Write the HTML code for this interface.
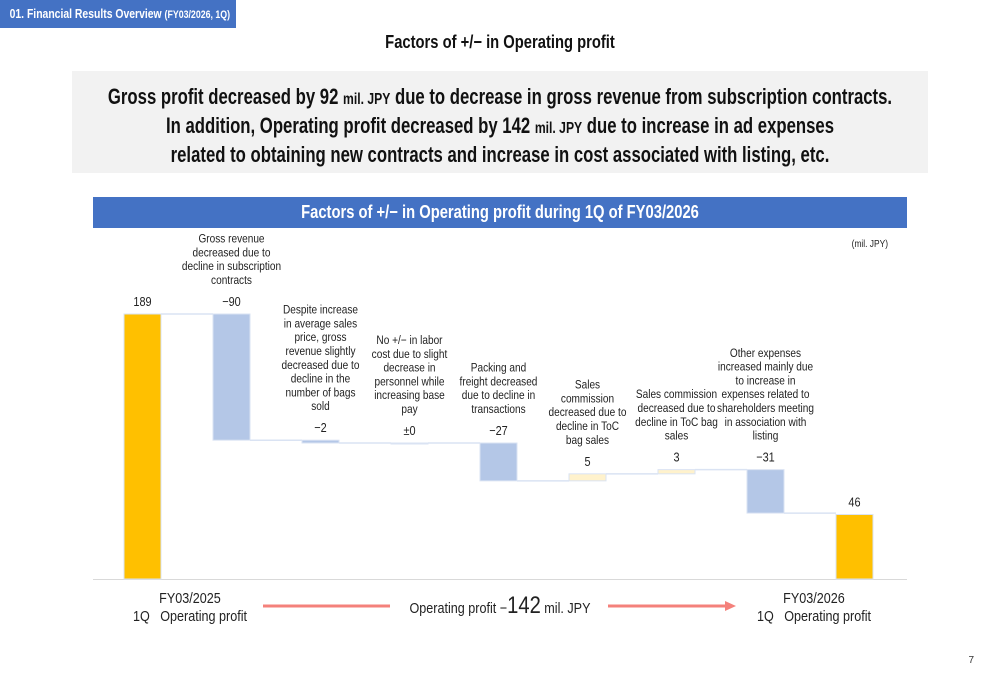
<!DOCTYPE html>
<html><head><meta charset="utf-8">
<style>
body{margin:0;background:#fff;font-family:"Liberation Sans",sans-serif;}
#root{position:relative;width:1000px;height:685px;overflow:hidden;background:#fff}
.tag{position:absolute;left:0;top:0;width:236px;height:28px;background:#4472c4;color:#fff;font-size:13px;font-weight:bold;line-height:28px;overflow:hidden;white-space:nowrap}
.tag div{transform:scaleX(0.8);transform-origin:0 0;padding-left:12px}
.title{position:absolute;left:0;width:1000px;top:32px;text-align:center;font-size:18px;font-weight:bold;color:#111;transform:scaleX(0.82)}
.box{position:absolute;left:72px;top:71px;width:856px;height:102px;background:#f2f2f2}
.box div{position:absolute;left:-100px;width:1056px;text-align:center;font-size:22px;font-weight:bold;line-height:26px;color:#111;top:13px;white-space:nowrap;transform:scaleX(0.76)}
.box small{font-size:16px}
.band{position:absolute;left:93px;top:197px;width:814px;height:31px;background:#4472c4;color:#fff;text-align:center;font-size:18px;font-weight:bold;line-height:31px;white-space:nowrap}
.band div{transform:scaleX(0.82)}
svg{position:absolute;left:0;top:0}
.page{position:absolute;right:26px;top:655px;font-size:10px;color:#333}
</style></head><body>
<div id="root">
<div class="tag"><div>01. Financial Results Overview <span style="font-size:11px">(FY03/2026, 1Q)</span></div></div>
<div class="title">Factors of +/− in Operating profit</div>
<div class="box"><div>Gross profit decreased by 92 <small>mil. JPY</small> due to decrease in gross revenue from subscription contracts.<br>In addition, Operating profit decreased by 142 <small>mil. JPY</small> due to increase in ad expenses<br>related to obtaining new contracts and increase in cost associated with listing, etc.</div></div>
<div class="band"><div>Factors of +/− in Operating profit during 1Q of FY03/2026</div></div>
<svg id="chart" width="1000" height="685"></svg>
<div class="page">7</div>
</div>
<script>
const values=[189,-90,-2,0,-27,5,3,-31,46];
const valueLabels=["189","−90","−2","±0","−27","5","3","−31","46"];
const kinds=["total","delta","delta","delta","delta","delta","delta","delta","total"];
const descriptions=[[],["Gross revenue","decreased due to","decline in subscription","contracts"],["Despite increase","in average sales","price, gross","revenue slightly","decreased due to","decline in the","number of bags","sold"],["No +/− in labor","cost due to slight","decrease in","personnel while","increasing base","pay"],["Packing and","freight decreased","due to decline in","transactions"],["Sales","commission","decreased due to","decline in ToC","bag sales"],["Sales commission","decreased due to","decline in ToC bag","sales"],["Other expenses","increased mainly due","to increase in","expenses related to","shareholders meeting","in association with","listing"],[]];
const NS="http://www.w3.org/2000/svg";
const svg=document.getElementById('chart');
const base=579,scale=265/189,x0=124,step=89,bw=37,SX=0.84;
const y=v=>base-v*scale;
const xs=i=>x0+i*step;
function mk(t,a){const e=document.createElementNS(NS,t);for(const k in a)e.setAttribute(k,a[k]);svg.appendChild(e);return e;}
function narrow(e,x){e.setAttribute('transform','translate('+x+',0) scale('+SX+',1) translate('+(-x)+',0)');}
const ax=mk('line',{x1:93,x2:907,y1:base+0.5,y2:base+0.5,stroke:'#d9d9d9','stroke-width':1});


let cum=0;
values.forEach((v,i)=>{
 let a,b;
 if(kinds[i]==='total'){a=0;b=v;cum=v;}else{a=cum;b=cum+v;cum=b;}
 const lo=Math.min(a,b),hi=Math.max(a,b);
 const fill=kinds[i]==='total'?'#ffc000':(v<0?'#b4c7e7':'#fff2cc');
 const r=mk('rect',{x:xs(i),y:y(hi),width:bw,height:Math.max(y(lo)-y(hi),1),fill:fill,stroke:'#dae3f3','stroke-width':1});
 
 
 if(i<values.length-1){
  const c=mk('line',{x1:xs(i)+bw,x2:xs(i+1),y1:y(cum),y2:y(cum),stroke:'#dae3f3','stroke-width':1.5});
  
  
 }
 const cx=xs(i)+bw/2;
 const ly=y(hi)-8;
 const t=mk('text',{x:cx,y:ly,'text-anchor':'middle','font-size':13,fill:'#222'});
 t.textContent=valueLabels[i];
 narrow(t,cx);
 
 
 const d=descriptions[i];
 d.forEach((ln,j)=>{
  const tt=mk('text',{x:cx,y:ly-22-(d.length-1-j)*13.8,'text-anchor':'middle','font-size':12,fill:'#222'});
  tt.textContent=ln;
  narrow(tt,cx);
  
  
 });
});
function txt(x,yy,s,fs,anchor,name){const t=mk('text',{x:x,y:yy,'text-anchor':anchor||'start','font-size':fs,fill:'#222'});t.textContent=s;narrow(t,x);return t;}
txt(888,247,'(mil. JPY)',10,'end','unit-label');
txt(190,603,'FY03/2025',15,'middle','start-period-label');
txt(190,621,'1Q\u00a0\u00a0 Operating profit',15,'middle','start-period-sub');
txt(814,603,'FY03/2026',15,'middle','end-period-label');
txt(814,621,'1Q\u00a0\u00a0 Operating profit',15,'middle','end-period-sub');
const mid=mk('text',{x:500,y:613,'text-anchor':'middle','font-size':15,fill:'#222'});
mid.innerHTML='Operating profit −<tspan font-size="24">142</tspan> mil. JPY';
narrow(mid,500);


const l1=mk('line',{x1:263,x2:390,y1:606,y2:606,stroke:'#f4817b','stroke-width':3});


const l2=mk('line',{x1:608,x2:727,y1:606,y2:606,stroke:'#f4817b','stroke-width':3});


const ah=mk('polygon',{points:'736,606 725,601 725,611',fill:'#f4817b'});


</script>
</body></html>
